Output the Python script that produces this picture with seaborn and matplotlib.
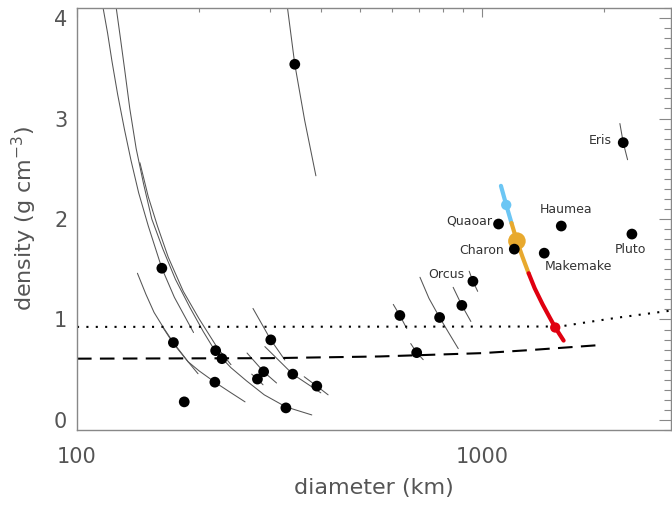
import numpy as np
import pandas as pd
import matplotlib
matplotlib.use("Agg")
import matplotlib.pyplot as plt
import seaborn as sns
from matplotlib.ticker import MultipleLocator, LogLocator, NullFormatter, FuncFormatter

# measured objects (diameter in km, density in g cm^-3)
dot_diam = [162, 173, 184, 220, 228, 219, 301, 289, 279, 341, 391, 328, 345,
            627, 690, 786, 892, 950, 1099, 1202, 1425, 1570, 2346, 2233]
dot_dens = [1.51, 0.77, 0.18, 0.69, 0.61, 0.376, 0.797, 0.48, 0.407, 0.456, 0.337, 0.12, 3.54,
            1.04, 0.67, 1.02, 1.14, 1.38, 1.95, 1.70, 1.66, 1.93, 1.85, 2.76]

# named objects
names = ["Eris", "Quaoar", "Haumea", "Charon", "Makemake", "Pluto", "Orcus"]
name_diam = [2233, 1099, 1570, 1202, 1425, 2346, 950]
name_dens = [2.76, 1.95, 1.93, 1.70, 1.66, 1.85, 1.38]

# thin uncertainty curves
curve_a_d = [116, 119, 122, 126, 131, 136, 142, 150, 162, 174, 194]
curve_a_r = [4.10, 3.85, 3.57, 3.24, 2.89, 2.58, 2.26, 1.93, 1.51, 1.22, 0.87]
curve_b_d = [125, 128, 131, 135, 140, 146, 153, 163, 175, 190, 205, 219, 240, 262, 290, 328, 380]
curve_b_r = [4.10, 3.80, 3.50, 3.10, 2.70, 2.35, 2.00, 1.70, 1.40, 1.12, 0.88, 0.69, 0.52, 0.39, 0.25, 0.13, 0.05]
curve_c_d = [143, 150, 158, 168, 183, 200, 222, 240]
curve_c_r = [2.56, 2.22, 1.93, 1.62, 1.28, 1.01, 0.72, 0.55]
curve_d_d = [141, 148, 155, 164, 173, 188, 199]
curve_d_r = [1.46, 1.25, 1.07, 0.91, 0.77, 0.58, 0.46]
curve_e_d = [163, 173, 188, 200, 219, 238, 260]
curve_e_r = [0.92, 0.76, 0.58, 0.49, 0.376, 0.28, 0.18]
curve_f_d = [272, 301, 326]
curve_f_r = [1.11, 0.797, 0.597]
curve_g_d = [291, 341, 400]
curve_g_r = [0.73, 0.456, 0.27]
curve_h_d = [364, 391, 417]
curve_h_r = [0.43, 0.337, 0.25]
curve_i_d = [263, 289, 311]
curve_i_r = [0.666, 0.48, 0.368]
curve_j_d = [270, 279, 288]
curve_j_r = [0.456, 0.407, 0.35]
curve_k_d = [180, 184, 188]
curve_k_r = [0.21, 0.18, 0.16]
curve_l_d = [331, 345, 365, 389]
curve_l_r = [4.10, 3.54, 2.98, 2.43]
curve_eris_d = [2191, 2233, 2289]
curve_eris_r = [2.95, 2.76, 2.59]
curve_orcus_d = [930, 950, 976]
curve_orcus_r = [1.48, 1.38, 1.28]
curve_m_d = [849, 892, 939]
curve_m_r = [1.32, 1.14, 0.98]
curve_n_d = [703, 740, 786, 830, 874]
curve_n_r = [1.42, 1.21, 1.02, 0.86, 0.71]
curve_o_d = [604, 627, 652]
curve_o_r = [1.15, 1.04, 0.91]
curve_p_d = [667, 690, 716]
curve_p_r = [0.76, 0.67, 0.60]

# coloured track
blue_d = [1114, 1148, 1183]
blue_r = [2.33, 2.14, 1.96]
orange_d = [1183, 1220, 1260, 1304]
orange_r = [1.96, 1.78, 1.62, 1.46]
red_d = [1304, 1350, 1412, 1470, 1517, 1591]
red_r = [1.46, 1.31, 1.15, 1.02, 0.92, 0.79]

# reference lines
dashed_d = [100, 300, 560, 1000, 1310, 1950]
dashed_r = [0.61, 0.615, 0.632, 0.665, 0.695, 0.745]
dotted_d = [100, 1560, 1800, 2180, 2950]
dotted_r = [0.926, 0.93, 0.97, 1.02, 1.09]

sns.set_style("white")
plt.rcParams['font.family'] = ['DejaVu Sans']

fig = plt.figure(figsize=(6.72, 5.07), dpi=100)
ax = fig.add_axes([77 / 672, 77 / 507, 594 / 672, 422 / 507])
ax.set_xscale("log")

curve_list = [
    (curve_a_d, curve_a_r), (curve_b_d, curve_b_r), (curve_c_d, curve_c_r),
    (curve_d_d, curve_d_r), (curve_e_d, curve_e_r), (curve_f_d, curve_f_r),
    (curve_g_d, curve_g_r), (curve_h_d, curve_h_r), (curve_i_d, curve_i_r),
    (curve_j_d, curve_j_r), (curve_k_d, curve_k_r), (curve_l_d, curve_l_r),
    (curve_eris_d, curve_eris_r), (curve_orcus_d, curve_orcus_r),
    (curve_m_d, curve_m_r), (curve_n_d, curve_n_r), (curve_o_d, curve_o_r),
    (curve_p_d, curve_p_r),
]
rows = []
for i, (cd, cr) in enumerate(curve_list):
    for d, r in zip(cd, cr):
        rows.append({"diameter": d, "density": r, "curve": i})
curves = pd.DataFrame(rows)
sns.lineplot(data=curves, x="diameter", y="density", units="curve", estimator=None,
             color="#555555", lw=0.75, ax=ax, legend=False)

# reference lines
sns.lineplot(x=dashed_d, y=dashed_r, color="black", lw=1.5, linestyle=(0, (7, 4)), ax=ax)
sns.lineplot(x=dotted_d, y=dotted_r, color="black", lw=1.5, linestyle=(0, (1, 3.5)), ax=ax)

# coloured track
track = pd.DataFrame({
    "diameter": blue_d + orange_d + red_d,
    "density": blue_r + orange_r + red_r,
    "seg": ["blue"] * len(blue_d) + ["orange"] * len(orange_d) + ["red"] * len(red_d),
})
pal = {"blue": "#6cc6f4", "orange": "#e8a92e", "red": "#e00010"}
sns.lineplot(data=track, x="diameter", y="density", hue="seg", palette=pal,
             lw=3, ax=ax, legend=False, estimator=None)

# points
sns.scatterplot(x=dot_diam, y=dot_dens, color="black", s=60, edgecolor="none",
                ax=ax, zorder=5)
sns.scatterplot(x=[blue_d[1]], y=[blue_r[1]], color=pal["blue"], s=55, edgecolor="none", ax=ax, zorder=6)
sns.scatterplot(x=[orange_d[1]], y=[orange_r[1]], color=pal["orange"], s=160, edgecolor="none", ax=ax, zorder=4)
sns.scatterplot(x=[red_d[4]], y=[red_r[4]], color=pal["red"], s=55, edgecolor="none", ax=ax, zorder=6)

# labels
offsets = {
    "Eris": ((-8.5, 1.7), "right"),
    "Quaoar": ((-4.8, 2.4), "right"),
    "Haumea": ((3.4, 12), "center"),
    "Charon": ((-7.6, -1.2), "right"),
    "Makemake": ((0.7, -9.6), "left"),
    "Pluto": ((-1, -11.3), "center"),
    "Orcus": ((-6.3, 4.6), "right"),
}
for n, d, r in zip(names, name_diam, name_dens):
    off, ha = offsets[n]
    ax.annotate(n, (d, r), xytext=off, textcoords="offset points", ha=ha, va="center",
                fontsize=9, color="#333333")

ax.set_xlim(100, 2930)
ax.set_ylim(-0.1, 4.1)
ax.xaxis.set_major_locator(LogLocator(base=10))
ax.xaxis.set_minor_locator(LogLocator(base=10, subs=np.arange(2, 10)))
ax.xaxis.set_minor_formatter(NullFormatter())
ax.xaxis.set_major_formatter(FuncFormatter(lambda v, p: f"{int(round(v))}"))
ax.yaxis.set_major_locator(MultipleLocator(1))
ax.yaxis.set_minor_locator(MultipleLocator(0.1))

ax.tick_params(which="both", direction="in", top=True, right=True, color="#888888",
               labelcolor="#555555", labelsize=15, width=0.8)
ax.tick_params(axis="x", which="major", length=6.5, pad=12)
ax.tick_params(axis="x", which="minor", length=3)
ax.tick_params(axis="y", which="major", length=8.5, pad=7)
ax.tick_params(axis="y", which="minor", length=5)
for s in ax.spines.values():
    s.set_color("#888888")
    s.set_linewidth(1)

ax.set_xlabel("diameter (km)", fontsize=16, color="#555555")
ax.set_ylabel("density (g cm$^{-3}$)", fontsize=16, color="#555555")
ax.xaxis.set_label_coords(0.5, -0.113)
ax.yaxis.set_label_coords(-0.064, 0.5)

fig.savefig("out.png", dpi=100)
